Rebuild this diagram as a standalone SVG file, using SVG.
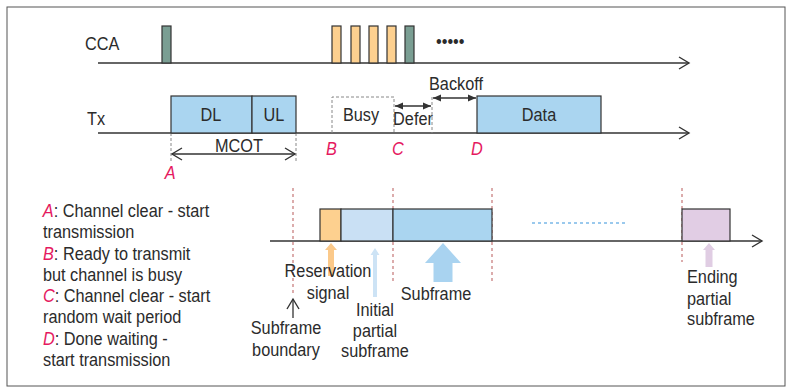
<svg xmlns="http://www.w3.org/2000/svg" width="788" height="388" viewBox="0 0 788 388">
<defs>
<style>
text{font-family:"Liberation Sans",Arial,sans-serif;font-size:18.5px;fill:#2b2b2b;transform-box:fill-box;transform-origin:0% 50%;transform:scaleX(0.88)}
.cen{text-anchor:middle;transform-origin:50% 50%}
.pk{fill:#e5195f;font-style:italic;font-size:18.5px}
.ax{stroke:#333;stroke-width:1.4;fill:none}
.bx{stroke:#333;stroke-width:1.2}
.dash{stroke:#888;stroke-width:1;stroke-dasharray:3 2;fill:none}
.rd{stroke:#c98080;stroke-width:1.3;stroke-dasharray:3 3;fill:none}
</style>
<marker id="chev" markerUnits="userSpaceOnUse" markerWidth="14" markerHeight="16" refX="11" refY="7" orient="auto-start-reverse">
<path d="M1,1 L11,7 L1,13" fill="none" stroke="#333" stroke-width="1.4"/>
</marker>
<marker id="tri" markerUnits="userSpaceOnUse" markerWidth="10" markerHeight="8" refX="8" refY="4" orient="auto-start-reverse">
<path d="M0,0.5 L8,4 L0,7.5 Z" fill="#333"/>
</marker>
</defs>
<rect x="7" y="7" width="778" height="379" fill="#fff" stroke="#555" stroke-width="1"/>

<g id="connectors">
<line class="ax" x1="98" y1="63" x2="689" y2="63" marker-end="url(#chev)"/>
<line class="ax" x1="98" y1="133" x2="689" y2="133" marker-end="url(#chev)"/>
<line class="ax" x1="270" y1="241" x2="762" y2="241" marker-end="url(#chev)"/>
<line class="dash" x1="171" y1="133" x2="171" y2="162" stroke="#333"/>
<line class="dash" x1="296" y1="133" x2="296" y2="162" stroke="#333"/>
<line x1="172" y1="154" x2="295" y2="154" stroke="#333" stroke-width="1.4" marker-start="url(#chev)" marker-end="url(#chev)"/>
<line x1="395" y1="106" x2="431" y2="106" stroke="#333" stroke-width="1.3" marker-start="url(#tri)" marker-end="url(#tri)"/>
<line x1="433" y1="98" x2="476" y2="98" stroke="#333" stroke-width="1.3" marker-start="url(#tri)" marker-end="url(#tri)"/>
<line class="dash" x1="432" y1="97" x2="432" y2="133"/>
<line class="rd" x1="293" y1="188" x2="293" y2="296"/>
<line class="rd" x1="393" y1="188" x2="393" y2="282"/>
<line class="rd" x1="492" y1="188" x2="492" y2="282"/>
<line class="rd" x1="682" y1="188" x2="682" y2="262"/>
<line x1="293" y1="318" x2="293" y2="299" stroke="#333" stroke-width="1.3" marker-end="url(#chev)"/>
<line x1="532" y1="223" x2="626" y2="223" stroke="#7ab8e8" stroke-width="1.3" stroke-dasharray="3 3"/>
</g>

<g id="cca">
<text x="85" y="50">CCA</text>
<rect class="bx" x="162" y="26" width="9" height="37" fill="#7a9e93"/>
<rect class="bx" x="332" y="26" width="9" height="37" fill="#fdd08f"/>
<rect class="bx" x="351" y="26" width="9" height="37" fill="#fdd08f"/>
<rect class="bx" x="369" y="26" width="9" height="37" fill="#fdd08f"/>
<rect class="bx" x="387" y="26" width="9" height="37" fill="#fdd08f"/>
<rect class="bx" x="405" y="26" width="9" height="37" fill="#7a9e93"/>
<text x="436" y="48" font-size="20">•••••</text>
</g>

<g id="tx">
<text x="87" y="125">Tx</text>
<rect id="dl" class="bx" x="171" y="96" width="81" height="37" fill="#aad5f0"/>
<rect id="ul" class="bx" x="252" y="96" width="44" height="37" fill="#aad5f0"/>
<text class="cen" x="211" y="121">DL</text>
<text class="cen" x="274" y="121">UL</text>
<text class="cen" x="239" y="152">MCOT</text>
<text class="pk" x="165" y="179">A</text>
<path class="dash" d="M332,133 V97 H394 V133"/>
<text class="cen" x="361" y="121">Busy</text>
<text class="cen" x="413" y="125">Defer</text>
<text class="cen" x="456" y="90">Backoff</text>
<rect id="data" class="bx" x="477" y="96" width="124" height="37" fill="#aad5f0"/>
<text class="cen" x="539" y="121">Data</text>
<text class="pk" x="326" y="155">B</text>
<text class="pk" x="392" y="155">C</text>
<text class="pk" x="471" y="155">D</text>
</g>

<g id="legend">
<text x="43" y="217"><tspan class="pk">A</tspan>: Channel clear - start</text>
<text x="43" y="238">transmission</text>
<text x="43" y="260"><tspan class="pk">B</tspan>: Ready to transmit</text>
<text x="43" y="281">but channel is busy</text>
<text x="43" y="302"><tspan class="pk">C</tspan>: Channel clear - start</text>
<text x="43" y="323">random wait period</text>
<text x="43" y="345"><tspan class="pk">D</tspan>: Done waiting -</text>
<text x="43" y="366">start transmission</text>
</g>

<g id="frame">
<rect id="reservation" class="bx" x="320" y="209" width="21" height="32" fill="#fdd08f"/>
<rect id="initial" class="bx" x="341" y="209" width="52" height="32" fill="#c9e0f4"/>
<rect id="subframe" class="bx" x="393" y="209" width="99" height="32" fill="#aad5f0"/>
<rect id="ending" class="bx" x="682" y="209" width="48" height="32" fill="#e1cde4"/>
<polygon points="331,243 337,250 334,250 334,276 328,276 328,250 325,250" fill="#fbc98a"/>
<polygon points="375,248 379.5,255 377,255 377,297 373,297 373,255 370.5,255" fill="#cde3f5"/>
<polygon points="443,243 461,263 452.5,263 452.5,282 433.5,282 433.5,263 425,263" fill="#a9d3f0"/>
<polygon points="709,243 715,250 712.5,250 712.5,267 705.5,267 705.5,250 703,250" fill="#e0cde3"/>
<text class="cen" x="328" y="277">Reservation</text>
<text class="cen" x="328" y="299">signal</text>
<text class="cen" x="286" y="334">Subframe</text>
<text class="cen" x="286" y="356">boundary</text>
<text class="cen" x="375" y="316">Initial</text>
<text class="cen" x="375" y="337">partial</text>
<text class="cen" x="375" y="357">subframe</text>
<text class="cen" x="436" y="300">Subframe</text>
<text x="687" y="283">Ending</text>
<text x="687" y="305">partial</text>
<text x="687" y="325">subframe</text>
</g>
</svg>
